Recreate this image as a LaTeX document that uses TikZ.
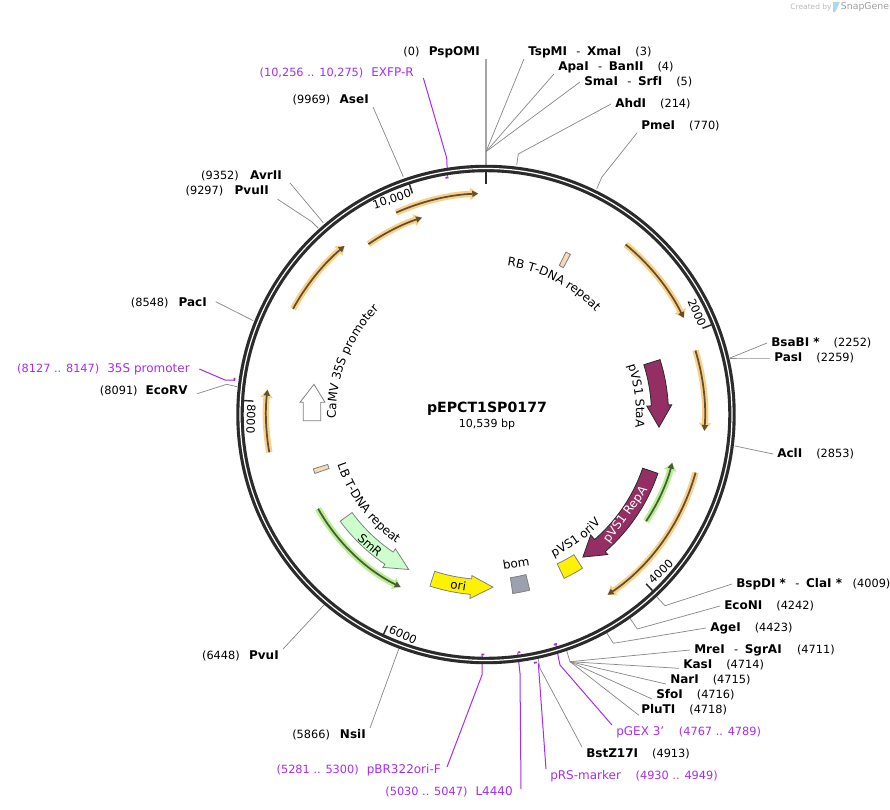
\documentclass[tikz,border=0pt]{standalone}
\usepackage{fontspec}
\setmainfont{DejaVu Sans}
\usetikzlibrary{arrows.meta,decorations.text}

\definecolor{cutgray}{HTML}{8A8A8A}
\definecolor{primerpurple}{HTML}{A52CF2}
\definecolor{ringdark}{HTML}{2B2B2B}
\definecolor{glowgold}{HTML}{FBCF85}
\definecolor{glowgreen}{HTML}{B5F08C}
\definecolor{coredark}{HTML}{5E4E32}
\definecolor{coregreen}{HTML}{47593A}
\definecolor{repmaroon}{HTML}{932F63}
\definecolor{smrgreen}{HTML}{CCFFCC}
\definecolor{bomgray}{HTML}{9BA1AE}
\definecolor{tdnatan}{HTML}{F6D9B8}
\definecolor{snapblue}{HTML}{A9D8F2}

\newcommand{\enz}[1]{{\fontsize{9}{10}\selectfont\bfseries #1}}
\newcommand{\prm}[1]{{\fontsize{9}{10}\selectfont #1}}

\tikzset{
  sitelabel/.style={inner xsep=3pt,inner ysep=1pt,text height=6.5pt,text depth=1.5pt,font=\fontsize{8.5}{10}\selectfont},
  primerlabel/.style={sitelabel,text=primerpurple},
  cutline/.style={draw=cutgray,line width=0.55pt},
  primerline/.style={draw=primerpurple,line width=0.75pt},
  primermark/.style={draw=primerpurple,line width=1.3pt},
  goldarc/.style={draw=coredark,line width=1.3pt,-{Triangle[length=4.5pt,width=4.5pt]},
    preaction={draw=glowgold,line width=4.8pt,-{Triangle[length=6pt,width=9pt]}}},
  greenarc/.style={draw=coregreen,line width=1.3pt,-{Triangle[length=4.5pt,width=4.5pt]},
    preaction={draw=glowgreen,line width=4.8pt,-{Triangle[length=6pt,width=9pt]}}},
  featbox/.style={draw=gray,line width=0.6pt},
  ticklabel/.style={inner sep=0.75pt,font=\fontsize{8.5}{10}\selectfont}
}

\begin{document}
\begin{tikzpicture}[x=0.75pt,y=0.75pt,yscale=-1,xscale=1]
\useasboundingbox (0,0) rectangle (890,810);

% Text Node
\draw (484,52) node [sitelabel,anchor=east] (pspOMI) {(0)\hspace{7pt}\enz{PspOMI}};
% Text Node
\draw (524,52) node [sitelabel,anchor=west] (tspMI) {\enz{TspMI}\hspace{7pt}-\hspace{5pt}\enz{XmaI}\hspace{10.5pt}(3)};
% Text Node
\draw (554,67) node [sitelabel,anchor=west] (apaI) {\enz{ApaI}\hspace{7pt}-\hspace{5pt}\enz{BanII}\hspace{10.5pt}(4)};
% Text Node
\draw (580,82) node [sitelabel,anchor=west] (smaI) {\enz{SmaI}\hspace{7pt}-\hspace{5pt}\enz{SrfI}\hspace{10.5pt}(5)};
% Text Node
\draw (611,104) node [sitelabel,anchor=west] (ahdI) {\enz{AhdI}\hspace{10.5pt}(214)};
% Text Node
\draw (637,126) node [sitelabel,anchor=west] (pmeI) {\enz{PmeI}\hspace{10.5pt}(770)};
% Text Node
\draw (767,343) node [sitelabel,anchor=west] (bsaBI) {\enz{BsaBI *}\hspace{10.5pt}(2252)};
% Text Node
\draw (770,358) node [sitelabel,anchor=west] (pasI) {\enz{PasI}\hspace{10.5pt}(2259)};
% Text Node
\draw (773,454) node [sitelabel,anchor=west] (aclI) {\enz{AclI}\hspace{10.5pt}(2853)};
% Text Node
\draw (732,584) node [sitelabel,anchor=west] (bspDI) {\enz{BspDI *}\hspace{7pt}-\hspace{5pt}\enz{ClaI *}\hspace{8pt}(4009)};
% Text Node
\draw (720,606) node [sitelabel,anchor=west] (ecoNI) {\enz{EcoNI}\hspace{10.5pt}(4242)};
% Text Node
\draw (706,628) node [sitelabel,anchor=west] (ageI) {\enz{AgeI}\hspace{10.5pt}(4423)};
% Text Node
\draw (690,650) node [sitelabel,anchor=west] (mreI) {\enz{MreI}\hspace{7pt}-\hspace{5pt}\enz{SgrAI}\hspace{11.5pt}(4711)};
% Text Node
\draw (679,665) node [sitelabel,anchor=west] (kasI) {\enz{KasI}\hspace{10.5pt}(4714)};
% Text Node
\draw (666,680) node [sitelabel,anchor=west] (narI) {\enz{NarI}\hspace{10.5pt}(4715)};
% Text Node
\draw (652,695) node [sitelabel,anchor=west] (sfoI) {\enz{SfoI}\hspace{10.5pt}(4716)};
% Text Node
\draw (637,710) node [sitelabel,anchor=west] (pluTI) {\enz{PluTI}\hspace{10.5pt}(4718)};
% Text Node
\draw (582,754) node [sitelabel,anchor=west] (bstZ) {\enz{BstZ17I}\hspace{10.5pt}(4913)};
% Text Node
\draw (370,735) node [sitelabel,anchor=east] (nsiI) {(5866)\hspace{7.5pt}\enz{NsiI}};
% Text Node
\draw (283,656) node [sitelabel,anchor=east] (pvuI) {(6448)\hspace{7pt}\enz{PvuI}};
% Text Node
\draw (192,391) node [sitelabel,anchor=east] (ecoRV) {(8091)\hspace{6pt}\enz{EcoRV}};
% Text Node
\draw (211,303) node [sitelabel,anchor=east] (pacI) {(8548)\hspace{7.5pt}\enz{PacI}};
% Text Node
\draw (273,191) node [sitelabel,anchor=east] (pvuII) {(9297)\hspace{8.5pt}\enz{PvuII}};
% Text Node
\draw (286,176) node [sitelabel,anchor=east] (avrII) {(9352)\hspace{8.5pt}\enz{AvrII}};
% Text Node
\draw (373,100) node [sitelabel,anchor=east] (aseI) {(9969)\hspace{7pt}\enz{AseI}};
% Text Node
\draw (418,73) node [primerlabel,anchor=east] (exfpR) {(10,256 .. 10,275)\hspace{6pt}\prm{EXFP-R}};
% Text Node
\draw (194,369) node [primerlabel,anchor=east] (camvP) {(8127 .. 8147)\hspace{6pt}\prm{35S promoter}};
% Text Node
\draw (445,770) node [primerlabel,anchor=east] (pbrF) {(5281 .. 5300)\hspace{6pt}\prm{pBR322ori-F}};
% Text Node
\draw (517,792) node [primerlabel,anchor=east] (l4440) {(5030 .. 5047)\hspace{6pt}\prm{L4440}};
% Text Node
\draw (546,776) node [primerlabel,anchor=west] (prsM) {\prm{pRS-marker}\hspace{11pt}(4930 .. 4949)};
% Text Node
\draw (612,732) node [primerlabel,anchor=west] (pgex) {\prm{pGEX 3'}\hspace{11pt}(4767 .. 4789)};

% Leader ends
\coordinate (top hub) at (486,151.7);
\coordinate (top end) at (486,165);
\coordinate (low hub) at (570,661.7);
\coordinate (low end) at (566.7,650.7);
\coordinate (ahdI bend) at (518.3,154);
\coordinate (ahdI end) at (516.7,165);
\coordinate (pmeI bend) at (601.7,177.3);
\coordinate (pmeI end) at (596.7,189);
\coordinate (bsa end) at (730,358);
\coordinate (pasI bend) at (743,358);
\coordinate (aclI end) at (735,446);
\coordinate (bspDI bend) at (665,605.7);
\coordinate (bspDI end) at (655,595);
\coordinate (ecoNI bend) at (637.3,629);
\coordinate (ecoNI end) at (630,618.3);
\coordinate (ageI bend) at (613.3,643.3);
\coordinate (ageI end) at (606.7,632.7);
\coordinate (bstZ bend) at (540,668.3);
\coordinate (bstZ end) at (538,658);
\coordinate (nsiI end) at (399,648.3);
\coordinate (pvuI end) at (324,605);
\coordinate (ecoRV bend) at (226.7,384.3);
\coordinate (ecoRV end) at (237.3,386.7);
\coordinate (pacI end) at (253.3,320.7);
\coordinate (pvuII bend) at (311.7,221.7);
\coordinate (pvuII end) at (318.3,228.3);
\coordinate (avrII end) at (323.3,222.7);
\coordinate (aseI end) at (403.3,176.7);
\coordinate (exfpR bend) at (446.7,158);
\coordinate (exfpR end) at (447.5,176.5);
\coordinate (camvP bend) at (225,380);
\coordinate (camvP end) at (234.3,380);
\coordinate (pbrF bend) at (482,675);
\coordinate (pbrF end) at (482,654);
\coordinate (l4440 bend) at (520,673.3);
\coordinate (l4440 end) at (517.7,653);
\coordinate (prsM end) at (538.3,663.3);
\coordinate (pgex bend) at (560,665);
\coordinate (pgex end) at (555.7,644);

%Straight Lines
\draw [cutline,line width=0.8pt,draw=gray!70] (pspOMI.south east -| top hub) -- (top hub) -- (top end);
\draw [cutline] (tspMI.south west) -- (top hub);
\draw [cutline] (apaI.south west) -- (top hub);
\draw [cutline] (smaI.west) -- (top hub);
\draw [cutline] (ahdI.west) -- (ahdI bend) -- (ahdI end);
\draw [cutline] (pmeI.south west) -- (pmeI bend) -- (pmeI end);
\draw [cutline] (bsaBI.west) -- (bsa end);
\draw [cutline] (pasI.west) -- (pasI bend) -- (bsa end);
\draw [cutline] (aclI.west) -- (aclI end);
\draw [cutline] (bspDI.west) -- (bspDI bend) -- (bspDI end);
\draw [cutline] (ecoNI.west) -- (ecoNI bend) -- (ecoNI end);
\draw [cutline] (ageI.west) -- (ageI bend) -- (ageI end);
\draw [cutline] (mreI.west) -- (low hub) -- (low end);
\draw [cutline] ([yshift=2.5pt]kasI.west) -- (low hub);
\draw [cutline] ([yshift=3pt]narI.west) -- (low hub);
\draw [cutline] ([yshift=3pt]sfoI.west) -- (low hub);
\draw [cutline] ([xshift=1.5pt,yshift=4pt]pluTI.west) -- (low hub);
\draw [cutline] (bstZ.north west) -- (bstZ bend) -- (bstZ end);
\draw [cutline] (nsiI.north east) -- (nsiI end);
\draw [cutline] (pvuI.north east) -- (pvuI end);
\draw [cutline] ([xshift=4pt,yshift=2pt]ecoRV.east) -- (ecoRV bend) -- (ecoRV end);
\draw [cutline] ([xshift=3.5pt,yshift=-1pt]pacI.east) -- (pacI end);
\draw [cutline] ([xshift=3.5pt,yshift=1pt]pvuII.south east) -- (pvuII bend) -- (pvuII end);
\draw [cutline] ([xshift=3pt]avrII.south east) -- (avrII end);
\draw [cutline] (aseI.south east) -- (aseI end);
\draw [primerline] ([xshift=4pt,yshift=-1.5pt]exfpR.south east) -- (exfpR bend) -- (exfpR end);
\draw [primerline] ([xshift=4pt]camvP.east) -- (camvP bend) -- (camvP end);
\draw [primerline] ([xshift=1.5pt,yshift=3pt]pbrF.north east) -- (pbrF bend) -- (pbrF end);
\draw [primerline] ([xshift=3pt,yshift=3pt]l4440.north east) -- (l4440 bend) -- (l4440 end);
\draw [primerline] (prsM.north west) -- (prsM end);
\draw [primerline] (pgex.north west) -- (pgex bend) -- (pgex end);

\begin{scope}[shift={(486,414.5)}]
% Backbone
\draw [draw=ringdark,line width=5.6pt] (0,0) circle (246);
\draw [draw=white,line width=0.9pt] (0,0) circle (246);
% Ticks
\draw [draw=ringdark,line width=2.2pt] (270:244) -- (270:231);
\draw [draw=ringdark,line width=1.1pt] (251.6:244) -- (251.6:233);
\draw [draw=ringdark,line width=1.1pt] (338.3:244) -- (338.3:233);
\draw [draw=ringdark,line width=1.1pt] (46.6:244) -- (46.6:233);
\draw [draw=ringdark,line width=1.1pt] (115:244) -- (115:233);
\draw [draw=ringdark,line width=1.1pt] (183.3:244) -- (183.3:233);
% Primer marks
\draw [primermark] (260.3:240) arc (260.3:261:240);
\draw [primermark] (187.6:254) arc (187.6:188.3:254);
\draw [primermark] (90.4:240) arc (90.4:91.1:240);
\draw [primermark] (81.8:240) arc (81.8:82.4:240);
\draw [primermark] (78.4:253) arc (78.4:79.1:253);
\draw [primermark] (72.8:240) arc (72.8:73.6:240);
% Thin features
\draw [goldarc] (246:221) arc (246:268:221);
\draw [goldarc] (235.4:207) arc (235.4:252:207);
\draw [goldarc] (208.7:220) arc (208.7:230:220);
\draw [goldarc] (170.1:220) arc (170.1:186.5:220);
\draw [goldarc] (-50.6:220) arc (-50.6:-26:220);
\draw [goldarc] (-17:219) arc (-17:4.3:219);
\draw [goldarc] (15.5:217.5) arc (15.5:56:217.5);
\draw [greenarc] (33.7:192.4) arc (33.7:14.5:192.4);
\draw [greenarc] (150.7:192.5) arc (150.7:116.3:192.5);
% Thick features
\draw [draw=ringdark,line width=0.6pt,fill=repmaroon] (-17.5:182.5) arc (-17.5:-3:182.5) -- (-3:186) -- (4.2:173.5) -- (-3:161) -- (-3:165.5) arc (-3:-17.5:165.5) -- cycle;
\draw [draw=ringdark,line width=0.6pt,fill=repmaroon] (18.9:181.7) arc (18.9:49:181.7) -- (49:185.6) -- (55.8:172.4) -- (49:159.6) -- (49:165.6) arc (49:18.9:165.6) -- cycle;
\draw [featbox,fill=smrgreen] (143.8:180.7) arc (143.8:124:180.7) -- (124:184.4) -- (116.5:173.2) -- (124:162) -- (124:166) arc (124:143.8:166) -- cycle;
\draw [featbox,fill=yellow] (108.1:180.5) arc (108.1:95:180.5) -- (95:184.7) -- (87.7:172.8) -- (95:161.7) -- (95:165) arc (95:108.1:165) -- cycle;
\draw [featbox,fill=bomgray] (76:165) arc (76:81.5:165) -- (81.5:181) arc (81.5:76:181) -- cycle;
\draw [featbox,fill=yellow] (57.9:165.5) arc (57.9:64.5:165.5) -- (64.5:181.5) arc (64.5:57.9:181.5) -- cycle;
\draw [featbox,fill=tdnatan] (-63.8:166) -- (-63.8:181) -- (-62.2:181) -- (-62.2:166) -- cycle;
\draw [featbox,fill=tdnatan] (161:166) -- (161:181) -- (162.5:181) -- (162.5:166) -- cycle;
% Curved labels
\path [decorate,decoration={text along path,text align=center,text={|\fontsize{9}{10}\selectfont|RB T-DNA repeat}}] (-95:150) arc (-95:-30:150);
\path [decorate,decoration={text along path,text align=center,text={|\fontsize{9}{10}\selectfont|CaMV 35S promoter}}] (164:150) arc (164:239:150);
\path [decorate,decoration={text along path,text align=center,text={|\fontsize{9}{10}\selectfont|LB T-DNA repeat}}] (175:157) arc (175:111:157);
\path [decorate,decoration={text along path,text align=center,text={|\fontsize{9}{10}\selectfont|pVS1 StaA}}] (-30:150) arc (-30:16:150);
\path [decorate,decoration={text along path,text align=center,text={|\fontsize{9}{10}\selectfont|pVS1 oriV}}] (80:158) arc (80:28:158);
\end{scope}

%Straight Lines
\draw [featbox,fill=white] (303.3,420.7) -- (303.3,402.3) -- (300,402.3) -- (314,384.3) -- (325,402.3) -- (320.7,402.3) -- (320.7,420.7) -- cycle;
% SnapGene mark
\draw [draw=none,fill=snapblue] (833,2) -- (840,2) .. controls (838,5) and (837,9) .. (835,12) -- (833,12) -- cycle;

% Text Node
\draw (487,409) node [inner sep=0.75pt,font=\fontsize{10.6}{12}\selectfont\bfseries] (title) {pEPCT1SP0177};
% Text Node
\draw (487,424) node [inner sep=0.75pt,font=\fontsize{8.3}{10}\selectfont] (size) {10,539 bp};
% Text Node
\draw (392,199.5) node [ticklabel,rotate=18.4] (mark tenk) {10,000};
% Text Node
\draw (697,312.5) node [ticklabel,rotate=-66] (mark two) {2000};
% Text Node
\draw (660.7,571.7) node [ticklabel,rotate=44] (mark four) {4000};
% Text Node
\draw (403,635) node [ticklabel,rotate=-25] (mark six) {6000};
% Text Node
\draw (251,419) node [ticklabel,rotate=-92] (mark eight) {8000};
% Text Node
\draw (625.7,515) node [inner sep=0.75pt,text=white,rotate=54,font=\fontsize{9}{10}\selectfont] (repA) {pVS1 RepA};
% Text Node
\draw (370,545) node [inner sep=0.75pt,rotate=-41.6,font=\fontsize{9}{10}\selectfont] (smR) {SmR};
% Text Node
\draw (458.3,585) node [inner sep=0.75pt,rotate=-9,font=\fontsize{9}{10}\selectfont] (oriLabel) {ori};
% Text Node
\draw (516,563) node [inner sep=0.75pt,rotate=9,font=\fontsize{9}{10}\selectfont] (bom) {bom};
% Text Node
\draw (811,7) node [inner sep=0.75pt,text=gray!55,font=\fontsize{5.6}{7}\selectfont] (created) {Created by};
% Text Node
\draw (865,7) node [inner sep=0.75pt,text=gray!75,font=\fontsize{7}{8}\selectfont] (snap) {SnapGene};
\end{tikzpicture}
\end{document}
